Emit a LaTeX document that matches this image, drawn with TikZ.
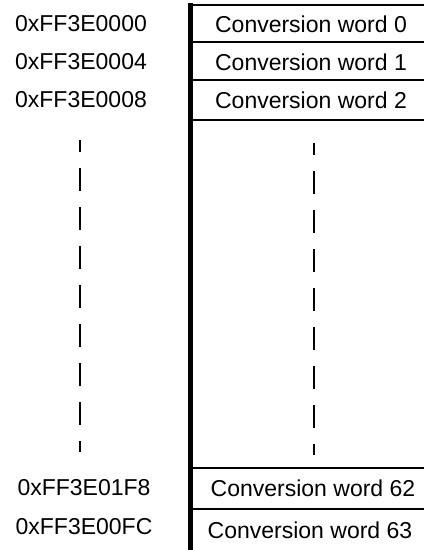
\documentclass[tikz,border=0pt]{standalone}
\usepackage{fontspec}
\setmainfont{Liberation Sans}
\usetikzlibrary{positioning}

\begin{document}
\begin{tikzpicture}[x=1pt, y=-1pt,
  addr/.style={font=\fontsize{23}{26}\selectfont, inner sep=0pt},
  word/.style={font=\fontsize{23}{26}\selectfont, inner sep=0pt},
  rule/.style={line width=2pt},
  dots/.style={line width=2pt, dash pattern=on 23pt off 16pt, dash phase=11pt}
]
  \useasboundingbox (0,0) rectangle (424,550);

  %% Memory column
  \draw[line width=4.5pt] (190.5,3) -- (190.5,550);
  \draw[line width=2.5pt] (190,5) -- (424,5);
  \foreach \y in {42,80,120,468,509} \draw[rule] (190,\y) -- (424,\y);

  %% Words
  \node[word] (w0)  at (311,24)  {Conversion word 0};
  \node[word] (w1)  at (311,62)  {Conversion word 1};
  \node[word] (w2)  at (311,100) {Conversion word 2};
  \node[word] (w62) at (313,488) {Conversion word 62};
  \node[word] (w63) at (310,530) {Conversion word 63};

  %% Addresses
  \node[addr] (a0)  at (81,24)  {0xFF3E0000};
  \node[addr] (a1)  at (81,62)  {0xFF3E0004};
  \node[addr] (a2)  at (81,100) {0xFF3E0008};
  \node[addr] (a62) at (84,488) {0xFF3E01F8};
  \node[addr] (a63) at (84,527) {0xFF3E00FC};

  %% Gap markers
  \coordinate (ltop) at (80,140);
  \coordinate (lbot) at (80,452);
  \coordinate (rtop) at (314,143);
  \coordinate (rbot) at (314,455);
  \draw[dots] (ltop) -- (lbot);
  \draw[dots] (rtop) -- (rbot);
\end{tikzpicture}
\end{document}
